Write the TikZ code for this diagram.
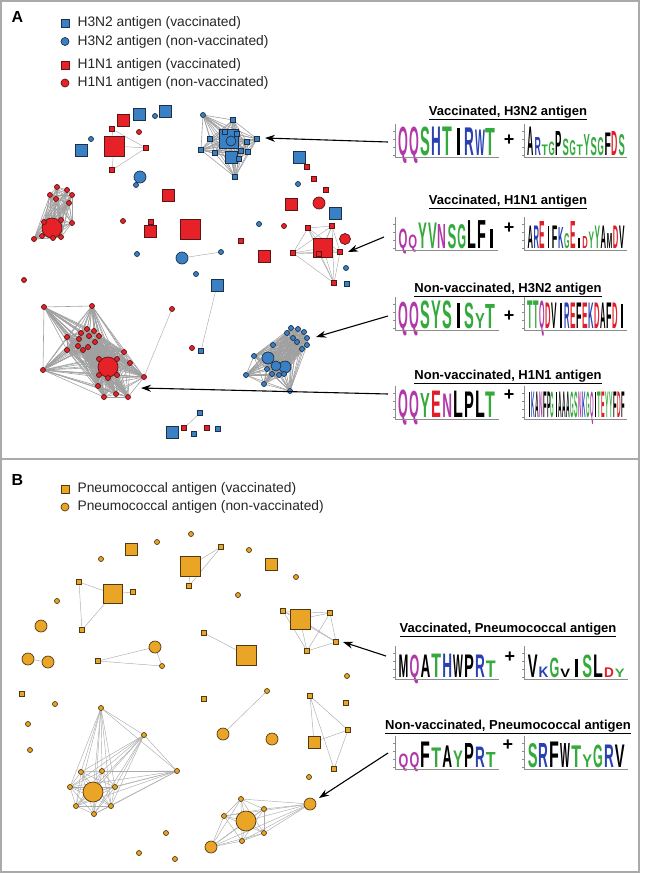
\documentclass[tikz,border=0pt]{standalone}
\usepackage{fontspec}
\setmainfont{Liberation Sans}
\usepackage{graphicx}
\usepackage{xcolor}
\usetikzlibrary{shapes,arrows,arrows.meta,positioning}

\definecolor{fluBlue}{RGB}{57,129,196}
\definecolor{fluRed}{RGB}{230,34,40}
\definecolor{pneuOrange}{RGB}{234,164,38}
\definecolor{blueRim}{RGB}{28,48,72}
\definecolor{redRim}{RGB}{90,22,22}
\definecolor{orangeRim}{RGB}{80,58,20}
\definecolor{linkGray}{RGB}{172,172,172}
\definecolor{denseGray}{RGB}{160,160,160}
\definecolor{frameGray}{RGB}{170,170,170}
\definecolor{aaGreen}{RGB}{52,170,60}
\definecolor{aaPurple}{RGB}{176,56,168}
\definecolor{aaBlue}{RGB}{40,64,180}
\definecolor{aaRed}{RGB}{225,30,40}

\pgfdeclarelayer{links}
\pgfsetlayers{links,main}

\newlength\lw
\newlength\lh
\setlength\lh{30pt}
\def\resbar{|}
% one stretched residue of a sequence logo
\newcommand{\res}[3]{\edef\restmp{#2}\makebox[\lw]{\textcolor{#1}{\ifx\restmp\resbar\rule{0.25\lw}{#3\lh}\else\resizebox{0.9\lw}{#3\lh}{\bfseries #2}\fi}}}
% all links of one cluster
\newcommand{\mesh}[3][link]{%
  \pgfmathtruncatemacro\meshlast{#3-1}%
  \foreach \i in {1,...,\meshlast}{%
    \pgfmathtruncatemacro\k{\i+1}%
    \foreach \j in {\k,...,#3}{\draw[#1] (#2\i) -- (#2\j);}%
  }%
}

\tikzset{
  sq/.style={rectangle, inner sep=0pt, minimum size=#1, line width=0.7pt},
  ci/.style={circle, inner sep=0pt, minimum size=#1, line width=0.7pt},
  h3v/.style={sq=#1, fill=fluBlue, draw=blueRim}, h3v/.default=5,
  h3n/.style={ci=#1, fill=fluBlue, draw=blueRim}, h3n/.default=5,
  h1v/.style={sq=#1, fill=fluRed, draw=redRim}, h1v/.default=5,
  h1n/.style={ci=#1, fill=fluRed, draw=redRim}, h1n/.default=5,
  pv/.style={sq=#1, fill=pneuOrange, draw=orangeRim}, pv/.default=5,
  pn/.style={ci=#1, fill=pneuOrange, draw=orangeRim}, pn/.default=5,
  link/.style={draw=linkGray, line width=0.45pt},
  denselink/.style={draw=denseGray, line width=0.6pt},
  pointer/.style={-{Stealth[length=10pt,width=7pt]}, line width=1.1pt},
  framebox/.style={draw=frameGray, line width=1.2pt},
  panellabel/.style={font=\fontsize{16}{18}\selectfont\bfseries, inner sep=0pt},
  legtext/.style={font=\fontsize{13.8}{16}\selectfont, text=black!85, inner sep=0pt},
  logotitle/.style={font=\fontsize{13}{15}\selectfont\bfseries, inner sep=0pt},
  plussign/.style={font=\fontsize{18}{18}\selectfont\bfseries, inner sep=0pt},
  logo/.style={anchor=base west, inner sep=0pt},
  logoaxis/.style={draw=black!45, line width=0.3pt},
}

\begin{document}
\begin{tikzpicture}[x=1pt,y=1pt,yscale=-1]
\useasboundingbox (0,0) rectangle (646,873);

%Panel frames
\draw[framebox] (1,1) rectangle (639,459);
\draw[framebox] (1,459) rectangle (639,872);

% Text Node
\node[panellabel] (labA) at (17.5,17) {A};
\node[panellabel] (labB) at (17.5,480) {B};

%Legend A
\node[h3v=8] (kA1) at (65,23) {};
\node[legtext, right=8pt of kA1] (kA1t) {H3N2 antigen (vaccinated)};
\node[h3n=8] (kA2) at (65,41.5) {};
\node[legtext, right=8pt of kA2] (kA2t) {H3N2 antigen (non-vaccinated)};
\node[h1v=8] (kA3) at (65,65) {};
\node[legtext, right=8pt of kA3] (kA3t) {H1N1 antigen (vaccinated)};
\node[h1n=8] (kA4) at (65,83) {};
\node[legtext, right=8pt of kA4] (kA4t) {H1N1 antigen (non-vaccinated)};

%Legend B
\node[pv=8] (kB1) at (65,489) {};
\node[legtext, right=8pt of kB1] (kB1t) {Pneumococcal antigen (vaccinated)};
\node[pn=8] (kB2) at (65,507) {};
\node[legtext, right=8pt of kB2] (kB2t) {Pneumococcal antigen (non-vaccinated)};

%Panel A: single antibodies
\node[h1v=12] (a1) at (123,120) {};
\node[h3v=12] (a2) at (139,114) {};
\node[h3n] (a3) at (155,116) {};
\node[h3v=12] (a4) at (165,111) {};
\node[h1v] (a5) at (112,129) {};
\node[h1n] (a6) at (139,132) {};
\node[h3n] (a7) at (91,139) {};
\node[h3v=12] (a8) at (81,150) {};
\node[h1v=20] (a9) at (114,146) {};
\node[h1v] (a10) at (146,148) {};
\node[h1v] (a11) at (112,170) {};
\node[h3n=12] (a12) at (140,177) {};
\node[h3n] (a13) at (136,185) {};
\node[h1v=12] (a14) at (168,195) {};
\node[h1n] (a15) at (123,221) {};
\node[h1v=12] (a17) at (150,231) {};
\node[h1v] (a16) at (151,222) {};
\node[h1v=20] (a18) at (190,229) {};
\node[h3n] (a19) at (259,224) {};
\node[h1n] (a20) at (284,226) {};
\node[h1v] (a21) at (241,241) {};
\node[h3n] (a22) at (137,254) {};
\node[h3n=12] (a23) at (182,258) {};
\node[h3n] (a24) at (221,252) {};
\node[h1v=12] (a25) at (264,256) {};
\node[h3n] (a26) at (196,274) {};
\node[h3v=12] (a27) at (217,285) {};
\node[h3v] (a28) at (201,351) {};
\node[h1n] (a29) at (24,280) {};
\node[h1n=12] (a30) at (319,203) {};
\node[h1v=12] (a31) at (291,204) {};
\node[h3v=12] (a32) at (299,157) {};
\node[h1v] (a33) at (307,167) {};
\node[h1v] (a34) at (314,179) {};
\node[h3n] (a35) at (298,184) {};
\node[h1v] (a36) at (326,190) {};
\node[h3v=12] (a37) at (335,213) {};
\node[h1n=11] (a38) at (345,239) {};
\node[h3n] (a39) at (346,268) {};
\node[h3v] (a40) at (347,284) {};
\node[h1n] (a41) at (192,348) {};
\node[h3v=12] (a42) at (172,432) {};
\node[h1v] (a43) at (184,428) {};
\node[h3v] (a44) at (200,413) {};
\node[h3v] (a45) at (194,434) {};
\node[h1v] (a46) at (207,428) {};
\node[h3v] (a47) at (218,429) {};
\node[h1n] (a48) at (172,309) {};

%Panel A: clusters
\foreach \x/\y/\s/\d [count=\i] in {229/139/h3v/19,231/141/h3n/10,231/157/h3v/12,203/115/h3n/5,233/120/h3v/5,257/139/h3v/5,210/139/h3v/5,201/150/h3v/5,215/153/h3v/5,235/177/h3v/5,247/142/h3v/5,248/152/h3v/5,241/151/h3v/5,239/159/h3v/5,225/132/h3v/5,237/134/h3v/5}
  \node[\s=\d] (tb\i) at (\x,\y) {};
\foreach \x/\y/\d [count=\i] in {52/228/20,57/187/5,67/190/5,50/195/5,56/199/5,72/195/5,69/203/5,72/223/5,34/239/5,53/238/5,42/236/5,61/237/5,44/222/5,61/220/5}
  \node[h1n=\d] (lr\i) at (\x,\y) {};
\foreach \x/\y/\d [count=\i] in {323/248/19,308/228/5,332/226/5,293/253/5,340/252/5,319/254/5,334/283/5}
  \node[h1v=\d] (rr\i) at (\x,\y) {};
\foreach \x/\y/\d [count=\i] in {108/367/20,144/377/5,44/307/5,92/306/5,67/337/5,81/333/5,87/329/5,94/331/5,89/336/5,99/336/5,79/339/5,95/342/5,78/346/5,88/347/5,83/350/5,67/350/5,124/352/5,130/363/5,43/370/5,98/386/5,104/397/5,116/394/5,128/397/5,99/359/5,117/359/5,99/375/5,117/375/5,108/378/5}
  \node[h1n=\d] (br\i) at (\x,\y) {};
\foreach \x/\y/\d [count=\i] in {268/358/12,285/367/12,276/366/10,291/328/5,298/329/5,304/332/5,287/333/5,293/338/5,297/342/5,307/338/5,307/345/5,302/349/5,273/345/5,254/356/5,246/375/5,264/384/5,290/391/5,267/369/5,272/374/5,279/375/5,284/374/5}
  \node[h3n=\d] (bb\i) at (\x,\y) {};

\begin{pgfonlayer}{links}
\mesh[denselink]{tb}{16}
\mesh[denselink]{lr}{14}
\mesh{rr}{7}
\mesh[denselink]{br}{28}
\mesh[denselink]{bb}{21}
\draw[link] (a9) -- (a5);
\draw[link] (a9) -- (a10);
\draw[link] (a9) -- (a11);
\draw[link] (a5) -- (a10);
\draw[link] (a10) -- (a11);
\draw[link] (a23) -- (a24);
\draw[link] (a27) -- (a28);
\draw[link] (br2) -- (a48);
\draw[link] (a43) -- (a44);
\end{pgfonlayer}

%Panel B: single antibodies
\node[pn] (p1) at (191,534) {};
\node[pn] (p2) at (157,542) {};
\node[pv=12] (p3) at (131,549) {};
\node[pn] (p4) at (101,559) {};
\node[pv=20] (p5) at (190,566) {};
\node[pv] (p6) at (221,547) {};
\node[pv] (p7) at (189,586) {};
\node[pn] (p8) at (249,550) {};
\node[pv=12] (p9) at (271,564) {};
\node[pn] (p10) at (296,577) {};
\node[pv] (p11) at (79,582) {};
\node[pv=19] (p12) at (113,594) {};
\node[pv] (p13) at (133,592) {};
\node[pv] (p14) at (82,630) {};
\node[pn] (p15) at (238,595) {};
\node[pn] (p16) at (57,601) {};
\node[pn=12] (p17) at (41,626) {};
\node[pn=12] (p18) at (28,659) {};
\node[pn=12] (p19) at (48,662) {};
\node[pn=12] (p20) at (155,647) {};
\node[pv] (p21) at (98,661) {};
\node[pn] (p22) at (162,666) {};
\node[pv] (p23) at (204,633) {};
\node[pv=20] (p24) at (246,655) {};
\node[pn] (p30) at (347,676) {};
\node[pv] (p31) at (22,694) {};
\node[pn] (p32) at (55,704) {};
\node[pn] (p33) at (28,724) {};
\node[pn] (p34) at (30,750) {};
\node[pv] (p35) at (204,699) {};
\node[pn] (p36) at (267,691) {};
\node[pn=12] (p37) at (223,734) {};
\node[pn=12] (p38) at (272,739) {};
\node[pv] (p39) at (310,696) {};
\node[pv] (p40) at (346,703) {};
\node[pv] (p41) at (348,730) {};
\node[pv=12] (p42) at (314,742) {};
\node[pv] (p43) at (334,769) {};
\node[pn] (p44) at (309,777) {};
\node[pn] (p45) at (166,833) {};
\node[pn] (p46) at (139,853) {};
\node[pn] (p47) at (175,859) {};

%Panel B: clusters
\foreach \x/\y/\d [count=\i] in {300/619/20,283/611/5,330/613/5,336/642/5,307/651/5}
  \node[pv=\d] (pq\i) at (\x,\y) {};
\foreach \x/\y/\d [count=\i] in {93/792/20,101/708/5,144/735/5,177/771/5,81/772/5,102/771/5,115/787/5,70/787/5,76/806/5,94/814/5,111/806/5}
  \node[pn=\d] (pl\i) at (\x,\y) {};
\foreach \x/\y/\d [count=\i] in {246/821/20,310/804/12,211/847/12,241/799/5,264/809/5,224/816/5,264/833/5,242/841/5}
  \node[pn=\d] (pr\i) at (\x,\y) {};

\begin{pgfonlayer}{links}
\mesh{pq}{5}
\mesh{pl}{11}
\mesh{pr}{8}
\draw[link] (p5) -- (p6);
\draw[link] (p6) -- (p7);
\draw[link] (p5) -- (p7);
\draw[link] (p12) -- (p11);
\draw[link] (p12) -- (p13);
\draw[link] (p12) -- (p14);
\draw[link] (p11) -- (p14);
\draw[link] (p18) -- (p19);
\draw[link] (p20) -- (p21);
\draw[link] (p21) -- (p22);
\draw[link] (p20) -- (p22);
\draw[link] (p23) -- (p24);
\draw[link] (p36) -- (p37);
\draw[link] (p39) -- (p41);
\draw[link] (p39) -- (p42);
\draw[link] (p39) -- (p43);
\draw[link] (p41) -- (p42);
\draw[link] (p41) -- (p43);
\end{pgfonlayer}

%Sequence logos, panel A
\node[logotitle] (ttA1) at (508,113) {\underline{Vaccinated, H3N2 antigen}};
\node[logo] (lgA1) at (398,155) {\setlength\lw{10.9pt}\foreach \c/\l/\h in {aaPurple/Q/.95,aaPurple/Q/.95,aaGreen/S/.95,aaBlue/H/.95,aaGreen/T/.95,black/|/.9,aaBlue/R/.92,aaBlue/W/.85,aaGreen/T/.9}{\res{\c}{\l}{\h}}};
\node[plussign] (plA1) at (509,140) {+};
\node[logo] (lgB1x) at (527,155) {\setlength\lw{7pt}\foreach \c/\l/\h in {black/A/.95,aaBlue/R/.6,aaGreen/T/.35,aaGreen/G/.45,black/P/.8,aaGreen/S/.55,aaGreen/G/.5,aaGreen/T/.35,aaGreen/Y/.7,aaGreen/S/.6,aaGreen/G/.6,black/F/.75,aaRed/D/.8,aaGreen/S/.7}{\res{\c}{\l}{\h}}};

\node[logotitle] (ttA2) at (508,202) {\underline{Vaccinated, H1N1 antigen}};
\node[logo] (lgA2) at (398,248) {\setlength\lw{9.8pt}\foreach \c/\l/\h in {aaPurple/Q/.65,aaPurple/Q/.45,aaGreen/Y/.85,aaGreen/V/.85,aaPurple/N/.8,aaGreen/S/.8,aaGreen/G/.8,black/L/.93,black/F/.93,black/|/.65}{\res{\c}{\l}{\h}}};
\node[plussign] (plA2) at (509,228) {+};
\node[logo] (lgB2x) at (527,248) {\setlength\lw{6.1pt}\foreach \c/\l/\h in {black/A/.75,aaBlue/R/.75,aaRed/E/.9,black/|/.75,black/F/.75,aaBlue/K/.7,aaGreen/G/.5,aaRed/E/.9,black/|/.35,aaRed/D/.4,aaGreen/Y/.55,aaGreen/Y/.75,black/A/.75,black/M/.5,aaRed/D/.75,black/V/.75}{\res{\c}{\l}{\h}}};

\node[logotitle] (ttA3) at (508,290) {\underline{Non-vaccinated, H3N2 antigen}};
\node[logo] (lgA3) at (398,328) {\setlength\lw{10.9pt}\foreach \c/\l/\h in {aaPurple/Q/.88,aaPurple/Q/.88,aaGreen/S/.92,aaGreen/Y/.92,aaGreen/S/.92,black/|/.85,aaGreen/S/.85,aaGreen/Y/.5,aaGreen/T/.8}{\res{\c}{\l}{\h}}};
\node[plussign] (plA3) at (509,316) {+};
\node[logo] (lgB3x) at (527,328) {\setlength\lw{6.1pt}\foreach \c/\l/\h in {aaGreen/T/.92,aaGreen/T/.92,aaPurple/Q/.92,aaRed/D/.85,black/V/.85,black/|/.85,aaBlue/R/.85,aaRed/E/.85,black/F/.85,aaRed/E/.85,aaBlue/K/.85,aaRed/D/.85,black/A/.85,black/F/.85,aaRed/D/.85,black/|/.8}{\res{\c}{\l}{\h}}};

\node[logotitle] (ttA4) at (508,377) {\underline{Non-vaccinated, H1N1 antigen}};
\node[logo] (lgA4) at (398,417) {\setlength\lw{10.9pt}\foreach \c/\l/\h in {aaPurple/Q/.92,aaPurple/Q/.88,aaGreen/Y/.8,aaRed/E/.88,aaPurple/N/.78,black/L/.88,black/P/.85,black/L/.88,aaGreen/T/.85}{\res{\c}{\l}{\h}}};
\node[plussign] (plA4) at (509,395) {+};
\node[logo] (lgB4x) at (527,417) {\setlength\lw{3.92pt}\foreach \c/\l/\h in {black/|/.85,aaBlue/K/.85,black/A/.85,aaPurple/N/.85,black/F/.85,black/P/.85,aaGreen/G/.85,black/|/.85,black/A/.85,black/A/.85,black/A/.85,aaGreen/G/.85,aaGreen/S/.85,aaPurple/N/.85,aaBlue/K/.85,aaGreen/G/.85,aaPurple/Q/.85,black/|/.85,aaGreen/T/.85,aaRed/E/.85,aaGreen/Y/.85,aaGreen/Y/.85,black/F/.85,aaRed/D/.85,black/F/.85}{\res{\c}{\l}{\h}}};

%Sequence logos, panel B
\node[logotitle] (ttB1) at (508,630) {\underline{Vaccinated, Pneumococcal antigen}};
\node[logo] (lgB1) at (398,677) {\setlength\lw{10.9pt}\foreach \c/\l/\h in {black/M/.75,aaPurple/Q/.75,black/A/.75,aaGreen/T/.78,aaBlue/H/.78,black/W/.75,black/P/.75,aaBlue/R/.75,aaGreen/T/.55}{\res{\c}{\l}{\h}}};
\node[plussign] (plB1) at (510,657) {+};
\node[logo] (lgB5x) at (527,677) {\setlength\lw{10.9pt}\foreach \c/\l/\h in {black/V/.75,aaBlue/K/.35,aaGreen/G/.65,black/V/.28,black/|/.6,aaGreen/S/.75,black/L/.75,aaRed/D/.32,aaGreen/Y/.28}{\res{\c}{\l}{\h}}};

\node[logotitle] (ttB2) at (508,727) {\underline{Non-vaccinated, Pneumococcal antigen}};
\node[logo] (lgB2) at (398,767) {\setlength\lw{10.9pt}\foreach \c/\l/\h in {aaPurple/Q/.45,aaPurple/Q/.5,black/F/.85,aaGreen/T/.65,black/A/.72,aaGreen/Y/.55,black/P/.8,aaBlue/R/.68,aaGreen/T/.5}{\res{\c}{\l}{\h}}};
\node[plussign] (plB2) at (508,745) {+};
\node[logo] (lgB6x) at (527,767) {\setlength\lw{10.9pt}\foreach \c/\l/\h in {aaGreen/S/.8,aaBlue/R/.8,black/F/.85,black/W/.8,aaGreen/T/.72,aaGreen/Y/.42,aaGreen/G/.75,aaBlue/R/.75,black/V/.75}{\res{\c}{\l}{\h}}};

%Logo axes
\foreach \n in {lgA1,lgA2,lgA3,lgA4,lgB1,lgB2,lgB1x,lgB2x,lgB3x,lgB4x,lgB5x,lgB6x}{
  \draw[logoaxis] ([xshift=-3pt,yshift=2pt]\n.base west) -- ([xshift=-3pt,yshift=-31pt]\n.base west);
  \draw[logoaxis] ([xshift=-3pt,yshift=2pt]\n.base west) -- ([xshift=2pt,yshift=2pt]\n.base east);
  \foreach \t in {0,8,16,24}
    \draw[logoaxis] ([xshift=-3pt,yshift=-\t pt]\n.base west) -- ([xshift=-5pt,yshift=-\t pt]\n.base west);
}

%Arrows from logos to clusters
\coordinate (tipA1) at (265,138);
\coordinate (tipA2) at (348,252);
\coordinate (tipA3) at (316,337);
\coordinate (tipA4) at (141,388);
\coordinate (tipB1) at (343,642);
\coordinate (tipB2) at (319,798);
\draw[pointer] ([xshift=-10pt,yshift=-13pt]lgA1.base west) -- (tipA1);
\draw[pointer] ([xshift=-14pt,yshift=-11pt]lgA2.base west) -- (tipA2);
\draw[pointer] ([xshift=-10pt,yshift=-12pt]lgA3.base west) -- (tipA3);
\draw[pointer] ([xshift=-10pt,yshift=-23pt]lgA4.base west) -- (tipA4);
\draw[pointer] ([xshift=-12pt,yshift=-21pt]lgB1.base west) -- (tipB1);
\draw[pointer] ([xshift=-10pt,yshift=-14pt]lgB2.base west) -- (tipB2);

\end{tikzpicture}
\end{document}
